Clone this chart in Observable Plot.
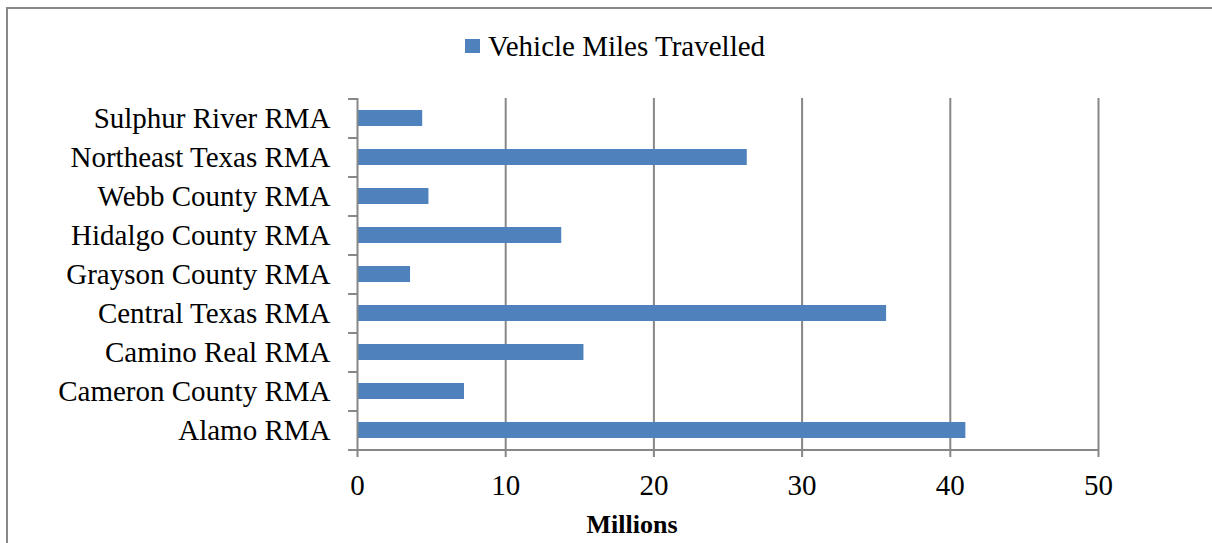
<!DOCTYPE html>
<html><head><meta charset="utf-8">
<script src="https://cdn.jsdelivr.net/npm/d3@7"></script>
<script src="https://cdn.jsdelivr.net/npm/@observablehq/plot@0.6"></script>
<style>
body{margin:0;background:#fff;}
#wrap{position:relative;width:1212px;height:543px;overflow:hidden;font-family:"Liberation Serif","Times New Roman",serif;}
#frame{position:absolute;left:6px;top:7px;width:1400px;height:800px;border-left:2px solid #888;border-top:2px solid #888;}
#legend{position:absolute;top:31px;left:465px;height:30px;display:flex;align-items:center;font-size:29px;color:#000;}
#legend .sw{width:15px;height:14px;background:#4f81bd;margin-right:8px;}
#chart{position:absolute;left:0;top:0;}
#chart svg text{font-family:"Liberation Serif","Times New Roman",serif;}
</style></head>
<body>
<div id="wrap">
  <div id="frame"></div>
  <div id="chart"></div>
  <div id="legend"><span class="sw"></span><span id="legendText"></span></div>
</div>
<script>
const categories = ["Sulphur River RMA","Northeast Texas RMA","Webb County RMA","Hidalgo County RMA","Grayson County RMA","Central Texas RMA","Camino Real RMA","Cameron County RMA","Alamo RMA"];
const values = [4.4, 26.3, 4.82, 13.78, 3.58, 35.7, 15.28, 7.22, 41.05];
const xTicks = [0, 10, 20, 30, 40, 50];
const seriesName = "Vehicle Miles Travelled";
const xLabel = "Millions";

document.getElementById("legendText").textContent = seriesName;

const data = categories.map((c, i) => ({category: c, value: values[i]}));

const W = 1212, H = 543, mt = 98, mb = 94, ml = 357, mr = 114;
const step = (H - mt - mb) / categories.length;
const grey = "#878787";
const tickLen = 0.6;
const serif = '"Liberation Serif","Times New Roman",serif';

const chart = Plot.plot({
  width: W, height: H,
  marginTop: mt, marginBottom: mb, marginLeft: ml, marginRight: mr,
  style: {fontFamily: serif, background: "transparent", overflow: "visible"},
  x: {domain: [0, 50], ticks: xTicks, label: null},
  y: {domain: categories, paddingInner: 0.59, paddingOuter: 0.295, label: null},
  marks: [
    Plot.ruleX(xTicks.filter(d => d > 0), {stroke: grey, strokeWidth: 2, strokeOpacity: 1}),
    Plot.barX(data, {y: "category", x: "value", fill: "#4f81bd"}),
    Plot.ruleX([0], {stroke: grey, strokeWidth: 2}),
    Plot.ruleY([0], {y: () => categories[categories.length - 1], x1: -tickLen, x2: 50, dy: step / 2, stroke: grey, strokeWidth: 2}),
    Plot.ruleY(categories, {y: d => d, x1: -tickLen, x2: 0, dy: -step / 2, stroke: grey, strokeWidth: 2}),
    Plot.axisX({ticks: xTicks, tickSize: 8, stroke: grey, strokeWidth: 2, strokeOpacity: 1, text: null, label: null}),
    Plot.axisX({ticks: xTicks, tickSize: 0, tickPadding: 25, fontSize: 29, fill: "#000", label: null}),
    Plot.axisY({tickSize: 0, tickPadding: 27, fontSize: 29, fill: "#000", label: null}),
    Plot.text([xLabel], {frameAnchor: "bottom", dx: -96, dy: 83, fontSize: 26, fontWeight: "bold", fill: "#000"})
  ]
});
document.getElementById("chart").appendChild(chart);
</script>
</body></html>
